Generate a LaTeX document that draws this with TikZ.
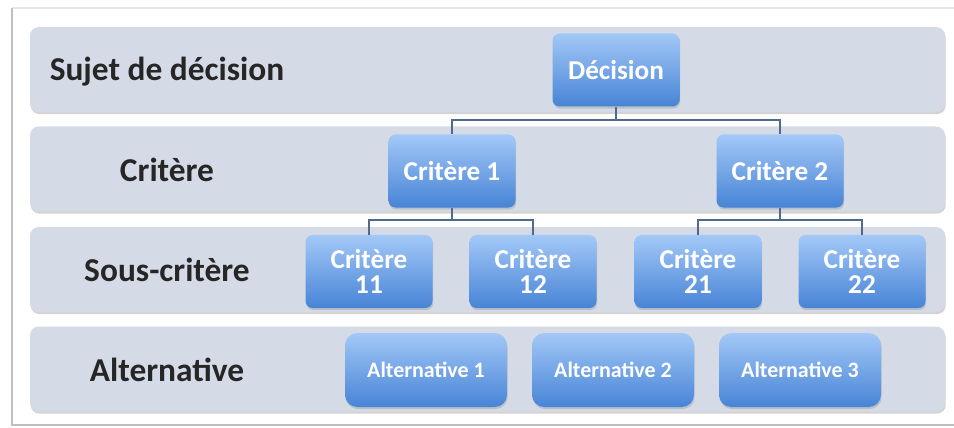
\documentclass[tikz,border=0pt]{standalone}
\usepackage{fontspec}
\setmainfont{Carlito}
\usetikzlibrary{shadows}

\definecolor{bandgray}{HTML}{D5DBE6}
\definecolor{boxtop}{HTML}{A3C8F7}
\definecolor{boxbot}{HTML}{4784D6}
\definecolor{linkcol}{HTML}{4E6A8C}
\definecolor{labelcol}{HTML}{262626}

\tikzset{
  band/.style={rounded corners=5pt, fill=bandgray, minimum width=18.3cm, minimum height=1.7cm,
    drop shadow={opacity=0.35, shadow xshift=0.4pt, shadow yshift=-1.2pt}},
  bandlabel/.style={text=labelcol, font=\bfseries\fontsize{19}{21}\selectfont},
  levelbox/.style={rounded corners=4pt, top color=boxtop, bottom color=boxbot, text=white,
    minimum width=2.54cm, minimum height=1.46cm, align=center, inner sep=1pt,
    font=\bfseries\fontsize{15.5}{14}\selectfont,
    drop shadow={opacity=0.3, shadow xshift=0.4pt, shadow yshift=-1.2pt}},
  altbox/.style={levelbox, rounded corners=7pt, minimum width=3.24cm, minimum height=1.48cm,
    font=\bfseries\fontsize{12.5}{14}\selectfont},
  link/.style={draw=linkcol, line width=0.6pt}
}

\begin{document}
\begin{tikzpicture}
  \useasboundingbox (0,0) rectangle (19.08,8.54);
  % outer frame
  \draw[gray!20, line width=0.6pt] (0.24,8.38) -- (19.3,8.38);
  \draw[gray!50, line width=0.9pt] (19.3,0.04) -- (0.24,0.04) -- (0.24,8.38);

  % level bands
  \node[band] (b1) at (9.75,7.15) {};
  \node[band] (b2) at (9.75,5.16) {};
  \node[band] (b3) at (9.75,3.15) {};
  \node[band] (b4) at (9.75,1.16) {};
  \node[bandlabel] (l1) at (3.34,7.1) {Sujet de décision};
  \node[bandlabel] (l2) at (3.34,5.14) {Critère};
  \node[bandlabel] (l3) at (3.34,3.14) {Sous-critère};
  \node[bandlabel] (l4) at (3.34,1.14) {Alternative};

  % hierarchy
  \node[levelbox] (dec) at (12.32,7.14) {Décision};
  \node[levelbox] (c1) at (9.04,5.12) {Critère 1};
  \node[levelbox] (c2) at (15.6,5.12) {Critère 2};
  \node[levelbox] (c11) at (7.38,3.11) {Critère\\11};
  \node[levelbox] (c12) at (10.66,3.11) {Critère\\12};
  \node[levelbox] (c21) at (13.96,3.11) {Critère\\21};
  \node[levelbox] (c22) at (17.24,3.11) {Critère\\22};
  \node[altbox] (a1) at (8.52,1.14) {Alternative 1};
  \node[altbox] (a2) at (12.26,1.14) {Alternative 2};
  \node[altbox] (a3) at (16.0,1.14) {Alternative 3};

  % connectors
  \coordinate (j0) at (12.32,6.14);
  \coordinate (j1) at (9.04,4.14);
  \coordinate (j2) at (15.6,4.14);
  \draw[link] (dec.south) -- (j0) -| (c1.north);
  \draw[link] (j0) -| (c2.north);
  \draw[link] (c1.south) -- (j1) -| (c11.north);
  \draw[link] (j1) -| (c12.north);
  \draw[link] (c2.south) -- (j2) -| (c21.north);
  \draw[link] (j2) -| (c22.north);
\end{tikzpicture}
\end{document}
